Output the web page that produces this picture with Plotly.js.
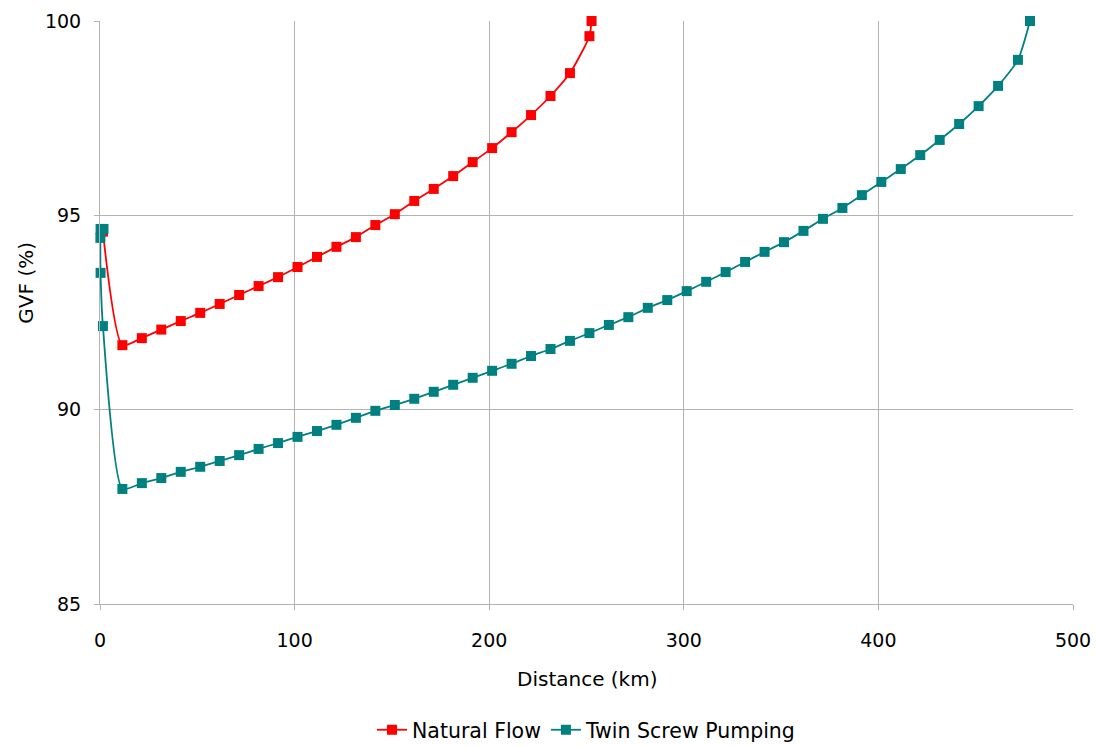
<!DOCTYPE html>
<html>
<head>
<meta charset="utf-8">
<script src="https://cdn.plot.ly/plotly-3.0.1.min.js"></script>
<style>html,body{margin:0;padding:0;background:#fff;}#chart{width:1097px;height:746px;}</style>
</head>
<body>
<div id="chart"></div>
<script>
const naturalX = [1.5, 11.5, 21.5, 31.5, 41.5, 51.5, 61.5, 71.5, 81.5, 91.5, 101.5, 111.5, 121.5, 131.5, 141.5, 151.5, 161.5, 171.5, 181.5, 191.5, 201.5, 211.5, 221.5, 231.5, 241.5, 251.5, 252.6];
const naturalY = [94.58, 91.66, 91.84, 92.06, 92.28, 92.49, 92.72, 92.95, 93.18, 93.41, 93.67, 93.93, 94.19, 94.44, 94.75, 95.03, 95.37, 95.68, 96.01, 96.37, 96.73, 97.14, 97.58, 98.07, 98.66, 99.61, 100.0];

const twinX = [1.8, 0.3, 0.2, 0.3, 1.5, 11.5, 21.5, 31.5, 41.5, 51.5, 61.5, 71.5, 81.5, 91.5, 101.5, 111.5, 121.5, 131.5, 141.5, 151.5, 161.5, 171.5, 181.5, 191.5, 201.5, 211.5, 221.5, 231.5, 241.5, 251.5, 261.5, 271.5, 281.5, 291.5, 301.5, 311.5, 321.5, 331.5, 341.5, 351.5, 361.5, 371.5, 381.5, 391.5, 401.5, 411.5, 421.5, 431.5, 441.5, 451.5, 461.5, 471.7, 477.9];
const twinY = [94.65, 94.65, 94.42, 93.52, 92.15, 87.96, 88.11, 88.24, 88.40, 88.53, 88.68, 88.83, 88.99, 89.14, 89.30, 89.45, 89.61, 89.79, 89.97, 90.12, 90.28, 90.46, 90.64, 90.82, 91.00, 91.18, 91.38, 91.56, 91.77, 91.97, 92.18, 92.38, 92.62, 92.82, 93.05, 93.29, 93.54, 93.80, 94.06, 94.31, 94.60, 94.91, 95.19, 95.52, 95.86, 96.19, 96.55, 96.94, 97.35, 97.81, 98.33, 99.00, 100.0];

const xTicks = [0, 100, 200, 300, 400, 500];
const yTicks = [85, 90, 95, 100];
const xTitle = 'Distance (km)';
const yTitle = 'GVF (%)';

const font = 'DejaVu Sans, Verdana, sans-serif';
const gridColor = '#b3b3b3';

const traces = [
  {
    x: naturalX, y: naturalY, name: 'Natural Flow', type: 'scatter', mode: 'lines+markers',
    line: {color: '#ff0000', width: 1.8, shape: 'spline', smoothing: 0.6},
    marker: {symbol: 'square', size: 10, color: '#ff0000'},
    cliponaxis: false
  },
  {
    x: twinX, y: twinY, name: 'Twin Screw Pumping', type: 'scatter', mode: 'lines+markers',
    line: {color: '#008080', width: 1.8, shape: 'spline', smoothing: 0.6},
    marker: {symbol: 'square', size: 10, color: '#008080'},
    cliponaxis: false
  }
];

const layout = {
  width: 1097, height: 746,
  margin: {l: 100, r: 24, t: 21, b: 142, autoexpand: false},
  paper_bgcolor: '#ffffff', plot_bgcolor: '#ffffff',
  font: {family: font, size: 19, color: '#000000'},
  showlegend: true,
  legend: {orientation: 'h', x: 0.5, xanchor: 'center', y: -0.216, yanchor: 'middle',
           font: {family: font, size: 20.5}, tracegroupgap: 0},
  xaxis: {
    range: [0, 500], tickvals: xTicks, ticktext: xTicks.map(String),
    showgrid: true, gridcolor: gridColor, gridwidth: 1,
    showline: true, linecolor: gridColor, linewidth: 1, zeroline: false,
    ticks: 'outside', ticklen: 5, tickcolor: gridColor,
    tickfont: {family: font, size: 19}, ticklabelstandoff: 14,
    automargin: false
  },
  yaxis: {
    range: [85, 100], tickvals: yTicks, ticktext: yTicks.map(String),
    showgrid: true, gridcolor: gridColor, gridwidth: 1,
    showline: true, linecolor: gridColor, linewidth: 1, zeroline: false,
    ticks: 'outside', ticklen: 5, tickcolor: gridColor,
    tickfont: {family: font, size: 19}, ticklabelstandoff: 9,
    automargin: false
  },
  annotations: [
    {text: xTitle, xref: 'paper', yref: 'paper', x: 0.5, y: -0.1286, xanchor: 'center', yanchor: 'middle',
     showarrow: false, font: {family: font, size: 20}},
    {text: yTitle, xref: 'paper', yref: 'paper', x: -0.0756, y: 0.552, xanchor: 'center', yanchor: 'middle',
     textangle: -90, showarrow: false, font: {family: font, size: 20}}
  ]
};

Plotly.newPlot('chart', traces, layout, {displayModeBar: false, staticPlot: true});
</script>
</body>
</html>
